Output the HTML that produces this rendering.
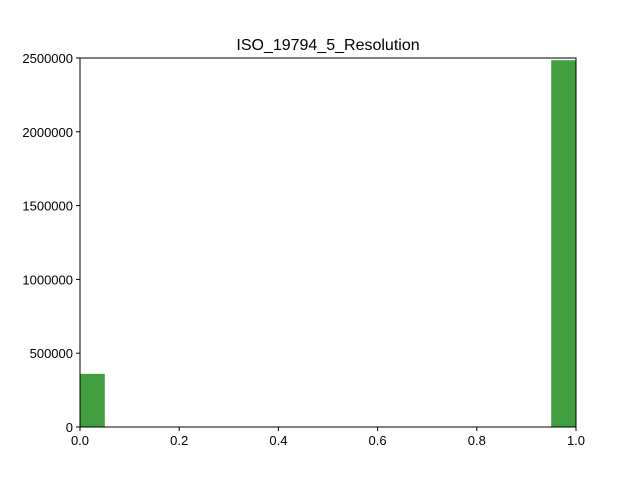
<!DOCTYPE html>
<html><head><meta charset="utf-8"><style>
body{margin:0;background:#fff}
svg{font-family:"Liberation Sans",sans-serif}
</style></head><body>
<svg id="chart" width="640" height="480" xmlns="http://www.w3.org/2000/svg">
<rect width="640" height="480" fill="#fff"/>
<text x="328" y="50" text-anchor="middle" font-size="16">ISO_19794_5_Resolution</text>
<g id="bars"></g>
<g id="axes"></g>
</svg>
<script>
const binEdgesStart = [0, 0.95];
const binWidth = 0.05;
const counts = [360000, 2485000];
const xTicks = [0, 0.2, 0.4, 0.6, 0.8, 1.0];
const xTickLabels = ["0.0","0.2","0.4","0.6","0.8","1.0"];
const yTicks = [0, 500000, 1000000, 1500000, 2000000, 2500000];
const yTickLabels = ["0","500000","1000000","1500000","2000000","2500000"];

const L=80,R=576,T=58,B=427;
const xs=v=>L+(v-0)/(1-0)*(R-L);
const ys=v=>B-(v/2500000)*(B-T);
const NS="http://www.w3.org/2000/svg";
const bars=document.getElementById('bars');
const axes=document.getElementById('axes');
function mk(tag,attrs,parent){const e=document.createElementNS(NS,tag);for(const k in attrs)e.setAttribute(k,attrs[k]);parent.appendChild(e);return e;}
counts.forEach((c,i)=>{
  const x0=xs(binEdgesStart[i]),x1=xs(binEdgesStart[i]+binWidth);
  const r=mk('rect',{x:x0,y:ys(c),width:x1-x0,height:B-ys(c),fill:'#40a040'},bars);
  
  
});
const frame=mk('rect',{x:L,y:T,width:R-L,height:B-T,fill:'none',stroke:'#000','stroke-width':1},axes);


xTicks.forEach((v,i)=>{
  const x=xs(v);
  mk('line',{x1:x,x2:x,y1:B,y2:B+4,stroke:'#000'},axes);
  const t=mk('text',{x:x,y:B+18,'text-anchor':'middle','font-size':13},axes);
  t.textContent=xTickLabels[i];
  
  
});
yTicks.forEach((v,i)=>{
  const y=ys(v);
  mk('line',{x1:L-4,x2:L,y1:y,y2:y,stroke:'#000'},axes);
  const t=mk('text',{x:L-7,y:y+5,'text-anchor':'end','font-size':13},axes);
  t.textContent=yTickLabels[i];
  
  
});
</script>
</body></html>
